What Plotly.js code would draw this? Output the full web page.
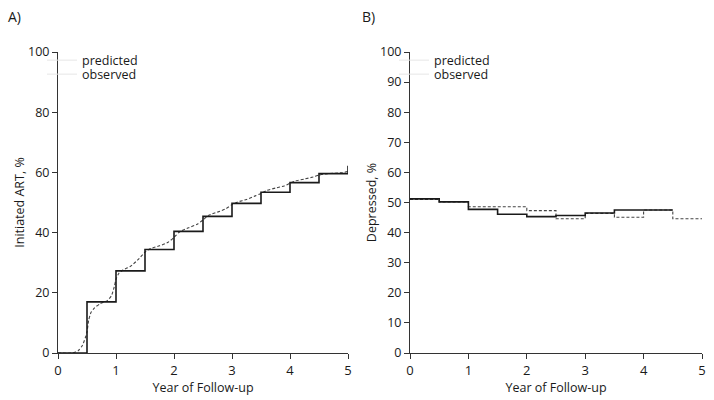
<!DOCTYPE html>
<html>
<head>
<meta charset="utf-8">
<script src="https://cdn.plot.ly/plotly-3.0.1.min.js"></script>
<style>html,body{margin:0;padding:0;background:#fff;}#chart{width:714px;height:400px;}</style>
</head>
<body>
<div id="chart"></div>
<script>
// Panel A: Initiated ART, %
const artObsX = [0, 0.5, 1, 1.5, 2, 2.5, 3, 3.5, 4, 4.5, 5, 5];
const artObsY = [0, 17, 27.3, 34.4, 40.4, 45.4, 49.7, 53.4, 56.6, 59.6, 59.6, 62.2];
const artPredX = [0, 0.25, 0.35, 0.42, 0.47, 0.5, 0.53, 0.57, 0.63, 0.72, 0.85, 0.92, 0.97, 1.0, 1.05, 1.12, 1.25, 1.38, 1.5, 1.6, 1.75, 1.9, 2.0, 2.1, 2.25, 2.4, 2.5, 2.6, 2.75, 2.9, 3.0, 3.1, 3.25, 3.4, 3.5, 3.6, 3.75, 3.9, 4.0, 4.1, 4.25, 4.4, 4.5, 4.6, 4.75, 4.9, 5.0];
const artPredY = [0, 0, 0.8, 2.5, 5, 7, 11, 13.5, 15, 16.3, 17.4, 19, 22, 24.5, 26.5, 27.6, 28.8, 31, 33.5, 34.7, 35.6, 36.8, 38.4, 40.3, 41.6, 42.8, 44.2, 45.8, 46.8, 48, 49.3, 50.2, 51, 52.2, 53, 54, 54.8, 55.5, 56.4, 57.2, 57.8, 58.5, 59.1, 59.5, 59.7, 59.9, 60.3];

// Panel B: Depressed, %
const depObsX = [0, 0.5, 1, 1.5, 2, 2.5, 3, 3.5, 4.5];
const depObsY = [51.2, 50.2, 47.7, 46.1, 45.3, 45.7, 46.5, 47.5, 47.5];
const depPredX = [0, 0.5, 1, 2, 2.5, 3, 3.5, 4, 4.5, 5];
const depPredY = [51.0, 50.2, 48.6, 47.3, 44.6, 46.4, 45.1, 47.5, 44.6, 44.6];

const xTicks = [0, 1, 2, 3, 4, 5];
const yTicksA = [0, 20, 40, 60, 80, 100];
const yTicksB = [0, 10, 20, 30, 40, 50, 60, 70, 80, 90, 100];

const FONT = 'Open Sans, Noto Sans, DejaVu Sans, sans-serif';
const TXT = '#1a1a1a';
const legendGray = '#e6e6e6';

const solid = {color: '#1a1a1a', width: 1.6, shape: 'hv'};
const dashedStep = {color: '#444', width: 1.1, dash: '3px,2px', shape: 'hv'};
const dashedSmooth = {color: '#444', width: 1.1, dash: '3px,2px', shape: 'spline', smoothing: 0.6};

const traces = [
  {x: artPredX, y: artPredY, xaxis: 'x', yaxis: 'y', mode: 'lines', line: dashedSmooth, showlegend: false, hoverinfo: 'skip'},
  {x: artObsX, y: artObsY, xaxis: 'x', yaxis: 'y', mode: 'lines', line: solid, showlegend: false, hoverinfo: 'skip'},
  {x: depPredX, y: depPredY, xaxis: 'x2', yaxis: 'y2', mode: 'lines', line: dashedStep, showlegend: false, hoverinfo: 'skip'},
  {x: depObsX, y: depObsY, xaxis: 'x2', yaxis: 'y2', mode: 'lines', line: solid, showlegend: false, hoverinfo: 'skip'},
  // legend entries (faint line samples as in the reference)
  {x: [null], y: [null], xaxis: 'x', yaxis: 'y', mode: 'lines', name: 'predicted', line: {color: legendGray, width: 1}, legend: 'legend'},
  {x: [null], y: [null], xaxis: 'x', yaxis: 'y', mode: 'lines', name: 'observed', line: {color: legendGray, width: 1}, legend: 'legend2'},
  {x: [null], y: [null], xaxis: 'x2', yaxis: 'y2', mode: 'lines', name: 'predicted', line: {color: legendGray, width: 1}, legend: 'legend3'},
  {x: [null], y: [null], xaxis: 'x2', yaxis: 'y2', mode: 'lines', name: 'observed', line: {color: legendGray, width: 1}, legend: 'legend4'}
];

const W = 714, H = 400;
const px = v => v / W;
const py = v => 1 - v / H;

function xax(domain) {
  return {
    domain: domain, range: [0, 5], tickvals: xTicks, ticks: 'outside', ticklen: 5, tickwidth: 1, tickcolor: '#333',
    showline: true, linecolor: '#333', linewidth: 1, showgrid: false, zeroline: false,
    tickfont: {family: FONT, size: 13, color: TXT},
    title: {text: 'Year of Follow-up', font: {family: FONT, size: 12.5, color: TXT}, standoff: 0}
  };
}
function yax(anchor, ticks, title) {
  return {
    domain: [py(353), py(52)], range: [0, 100], tickvals: ticks, ticks: 'outside', ticklen: 5, tickwidth: 1, tickcolor: '#333',
    showline: true, linecolor: '#333', linewidth: 1, showgrid: false, zeroline: false, anchor: anchor,
    tickfont: {family: FONT, size: 12.5, color: TXT},
    title: {text: title, font: {family: FONT, size: 12.5, color: TXT}, standoff: 0}
  };
}
function leg(xp, yp) {
  return {x: px(xp), y: py(yp), xanchor: 'left', yanchor: 'middle', bgcolor: 'rgba(0,0,0,0)', borderwidth: 0,
          font: {family: FONT, size: 12.5, color: TXT}, itemclick: false, itemdoubleclick: false};
}

const layout = {
  width: W, height: H,
  margin: {l: 0, r: 0, t: 0, b: 0},
  paper_bgcolor: '#fff', plot_bgcolor: '#fff',
  font: {family: FONT, size: 12, color: TXT},
  xaxis: Object.assign(xax([px(58), px(348)]), {anchor: 'y'}),
  yaxis: yax('x', yTicksA, 'Initiated ART, %'),
  xaxis2: Object.assign(xax([px(410), px(702)]), {anchor: 'y2'}),
  yaxis2: yax('x2', yTicksB, 'Depressed, %'),
  legend: leg(42, 60.5),
  legend2: leg(42, 74.5),
  legend3: leg(394, 60.5),
  legend4: leg(394, 74.5),
  annotations: [
    {text: 'A)', xref: 'paper', yref: 'paper', x: px(6), y: py(17), xanchor: 'left', yanchor: 'middle', showarrow: false, font: {family: FONT, size: 14, color: TXT}},
    {text: 'B)', xref: 'paper', yref: 'paper', x: px(360), y: py(17), xanchor: 'left', yanchor: 'middle', showarrow: false, font: {family: FONT, size: 14, color: TXT}}
  ]
};

Plotly.newPlot('chart', traces, layout, {staticPlot: true, displayModeBar: false});
</script>
</body>
</html>
